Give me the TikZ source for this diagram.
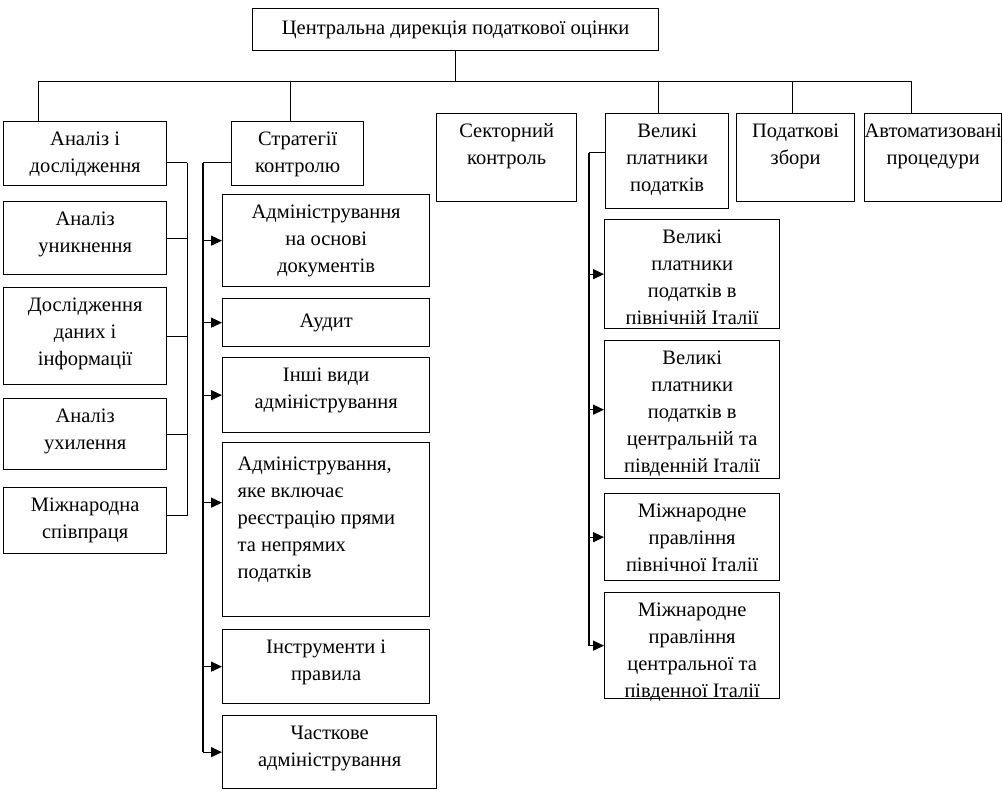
\documentclass[tikz,border=0pt]{standalone}
\usepackage{fontspec}
\setmainfont{Liberation Serif}
\usetikzlibrary{arrows.meta}

\begin{document}
\begin{tikzpicture}[x=1pt,y=-1pt,line width=1.3pt,
  box/.style={draw,inner sep=0pt,anchor=north west},
  txt/.style={anchor=north,align=center,inner sep=0pt,yshift=-10pt,
    font=\fontsize{20.5}{27}\selectfont,execute at begin node=\strut},
  arr/.style={-{Triangle[length=11pt,width=10pt]}}]
\useasboundingbox (0,0) rectangle (1003,790);
% head and first row
\node[box,minimum width=406pt,minimum height=42pt](dir) at (252,8){};
\node[txt,yshift=3pt](dir-t) at (dir.north){Центральна дирекція податкової оцінки};
\node[box,minimum width=163pt,minimum height=64pt](ana) at (3,121){};
\node[txt](ana-t) at (ana.north){Аналіз і\\дослідження};
\node[box,minimum width=132pt,minimum height=64pt](str) at (231,121){};
\node[txt](str-t) at (str.north){Стратегії\\контролю};
\node[box,minimum width=140pt,minimum height=88pt](sek) at (436,113){};
\node[txt](sek-t) at (sek.north){Секторний\\контроль};
\node[box,minimum width=123pt,minimum height=95pt](vpl) at (605,113){};
\node[txt](vpl-t) at (vpl.north){Великі\\платники\\податків};
\node[box,minimum width=118pt,minimum height=88pt](pzb) at (736,113){};
\node[txt](pzb-t) at (pzb.north){Податкові\\збори};
\node[box,minimum width=137pt,minimum height=88pt](avt) at (864,113){};
\node[txt](avt-t) at (avt.north){Автоматизовані\\процедури};
% analysis column
\node[box,minimum width=163pt,minimum height=73pt](unk) at (3,201){};
\node[txt](unk-t) at (unk.north){Аналіз\\уникнення};
\node[box,minimum width=163pt,minimum height=97pt](dos) at (3,287){};
\node[txt](dos-t) at (dos.north){Дослідження\\даних і\\інформації};
\node[box,minimum width=163pt,minimum height=71pt](uhy) at (3,398){};
\node[txt](uhy-t) at (uhy.north){Аналіз\\ухилення};
\node[box,minimum width=163pt,minimum height=66pt](msp) at (3,487){};
\node[txt](msp-t) at (msp.north){Міжнародна\\співпраця};
% control column
\node[box,minimum width=207pt,minimum height=92pt](adm) at (222,194){};
\node[txt](adm-t) at (adm.north){Адміністрування\\на основі\\документів};
\node[box,minimum width=207pt,minimum height=48pt](aud) at (222,298){};
\node[txt](aud-t) at (aud.north){Аудит};
\node[box,minimum width=207pt,minimum height=75pt](inv) at (222,357){};
\node[txt](inv-t) at (inv.north){Інші види\\адміністрування};
\node[box,minimum width=207pt,minimum height=174pt](reg) at (222,442){};
\node[txt,anchor=north west,align=left,yshift=-4pt](reg-t) at ([xshift=15pt]reg.north west){Адміністрування,\\яке включає\\реєстрацію прями\\та непрямих\\податків};
\node[box,minimum width=207pt,minimum height=74pt](ins) at (222,629){};
\node[txt](ins-t) at (ins.north){Інструменти і\\правила};
\node[box,minimum width=214pt,minimum height=73pt](cha) at (222,715){};
\node[txt](cha-t) at (cha.north){Часткове\\адміністрування};
% large payers column
\node[box,minimum width=175pt,minimum height=109pt](vp1) at (604,219){};
\node[txt](vp1-t) at (vp1.north){Великі\\платники\\податків в\\північній Італії};
\node[box,minimum width=175pt,minimum height=138pt](vp2) at (604,340){};
\node[txt](vp2-t) at (vp2.north){Великі\\платники\\податків в\\центральній та\\південній Італії};
\node[box,minimum width=175pt,minimum height=87pt](mp1) at (604,493){};
\node[txt](mp1-t) at (mp1.north){Міжнародне\\правління\\північної Італії};
\node[box,minimum width=175pt,minimum height=106pt](mp2) at (604,592){};
\node[txt](mp2-t) at (mp2.north){Міжнародне\\правління\\центральної та\\південної Італії};
% top bus
\coordinate(hub) at ([yshift=-30pt]dir.south);
\draw(dir.south) -- (hub);
\draw([xshift=-46.5pt]ana.north) |- (hub);
\draw([xshift=-7pt]str.north) |- (hub);
\draw([xshift=-8.5pt]vpl.north) |- (hub);
\draw([xshift=-3pt]pzb.north) |- (hub);
\draw([xshift=-21.5pt]avt.north) |- (hub);
% analysis bus
\coordinate(lbus) at ([xshift=20pt,yshift=-9pt]ana.east);
\draw([yshift=-9pt]ana.east) -- (lbus);
\draw(lbus) |- ([yshift=5pt]msp.east);
\draw(unk.east) -- (unk.east -| lbus);
\draw(dos.east) -- (dos.east -| lbus);
\draw(uhy.east) -- (uhy.east -| lbus);
% control bus
\coordinate(sbus) at ([xshift=-28pt,yshift=-9pt]str.west);
\coordinate(reg-in) at ([yshift=27pt]reg.west);
\draw([yshift=-9pt]str.west) -- (sbus);
\draw(sbus) -- (sbus |- cha.west);
\draw[arr](sbus |- adm.west) -- (adm.west);
\draw[arr](sbus |- aud.west) -- (aud.west);
\draw[arr](sbus |- inv.west) -- (inv.west);
\draw[arr](sbus |- reg-in) -- (reg-in);
\draw[arr](sbus |- ins.west) -- (ins.west);
\draw[arr](sbus |- cha.west) -- (cha.west);
% large payers bus
\coordinate(rbus) at ([xshift=-16pt,yshift=8.5pt]vpl.west);
\draw([yshift=8.5pt]vpl.west) -- (rbus);
\draw(rbus) -- (rbus |- mp2.west);
\draw[arr](rbus |- vp1.west) -- (vp1.west);
\draw[arr](rbus |- vp2.west) -- (vp2.west);
\draw[arr](rbus |- mp1.west) -- (mp1.west);
\draw[arr](rbus |- mp2.west) -- (mp2.west);
\end{tikzpicture}
\end{document}
